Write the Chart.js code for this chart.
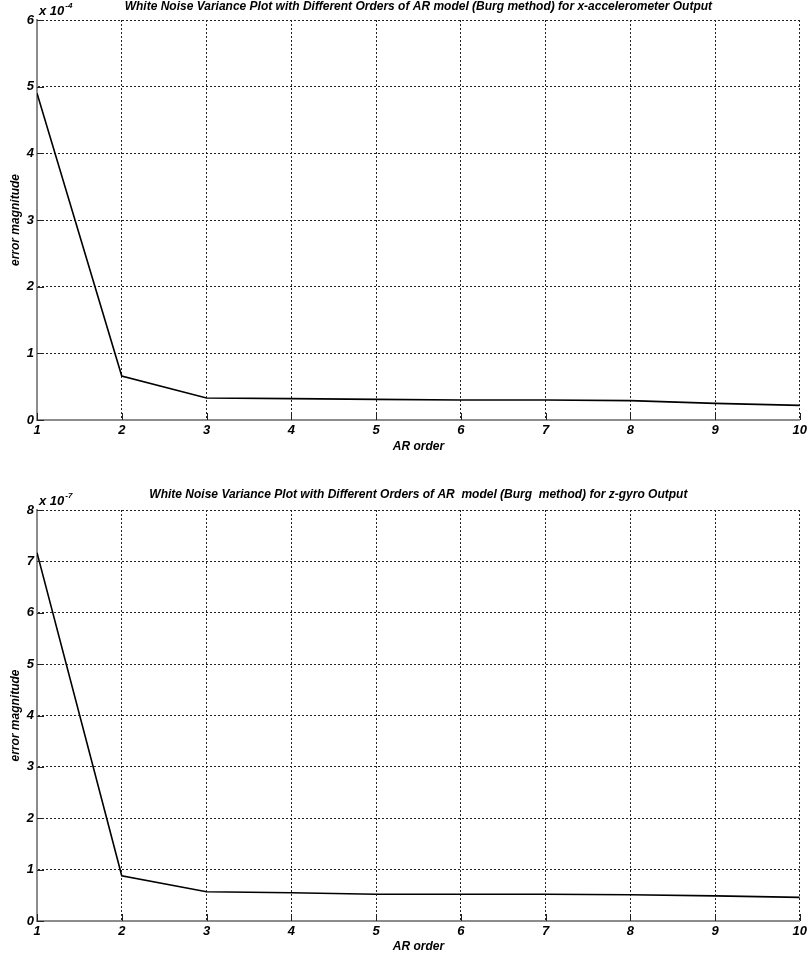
<!DOCTYPE html>
<html>
<head>
<meta charset="utf-8">
<script src="https://cdn.jsdelivr.net/npm/chart.js@4"></script>
<style>
  html, body { margin: 0; padding: 0; background: #fff; }
  .wrap { position: absolute; left: 0; width: 810px; }
</style>
</head>
<body>
<div class="wrap" style="top:0;height:470px"><canvas id="accel"></canvas></div>
<div class="wrap" style="top:470px;height:491px"><canvas id="gyro"></canvas></div>
<script>
// AR model orders (x axis)
const arOrders = [1, 2, 3, 4, 5, 6, 7, 8, 9, 10];

// white noise variance, x-accelerometer (x 10^-4)
const accelVariance = [4.9, 0.66, 0.33, 0.32, 0.31, 0.30, 0.30, 0.29, 0.25, 0.22];
const accelExponent = '-4';
const accelTitle = 'White Noise Variance Plot with Different Orders of AR model (Burg method) for x-accelerometer Output';

// white noise variance, z-gyro (x 10^-7)
const gyroVariance = [7.17, 0.88, 0.57, 0.55, 0.52, 0.52, 0.52, 0.51, 0.49, 0.46];
const gyroExponent = '-7';
const gyroTitle = 'White Noise Variance Plot with Different Orders of AR  model (Burg  method) for z-gyro Output';

const FONT = 'Liberation Sans, Arial, sans-serif';

// title + "x 10^n" label + inward tick marks, matlab style
const decorPlugin = {
    id: 'decor',
    afterDraw(chart, args, opts) {
        const ctx = chart.ctx;
        const area = chart.chartArea;
        const xs = chart.scales.x, ys = chart.scales.y;
        ctx.save();

        // inward ticks
        ctx.strokeStyle = '#222';
        ctx.lineWidth = 1;
        ctx.beginPath();
        xs.ticks.forEach(t => {
            const px = Math.round(xs.getPixelForValue(t.value)) + 0.5;
            ctx.moveTo(px, area.bottom);
            ctx.lineTo(px, area.bottom - 7);
        });
        ys.ticks.forEach(t => {
            const py = Math.round(ys.getPixelForValue(t.value)) + 0.5;
            ctx.moveTo(area.left, py);
            ctx.lineTo(area.left + 7, py);
        });
        ctx.stroke();

        // title
        ctx.fillStyle = '#000';
        ctx.font = 'italic bold 12px ' + FONT;
        ctx.textAlign = 'center';
        ctx.textBaseline = 'middle';
        ctx.fillText(opts.title, (area.left + area.right) / 2, opts.titleY);

        // exponent label
        ctx.textAlign = 'left';
        ctx.textBaseline = 'alphabetic';
        ctx.font = 'italic bold 13px ' + FONT;
        const base = 'x 10';
        const bx = area.left + 2;
        const by = area.top - 5;
        ctx.fillText(base, bx, by);
        const w = ctx.measureText(base).width;
        ctx.font = 'italic bold 8px ' + FONT;
        ctx.fillText(opts.exponent, bx + w + 1, by - 7);
        ctx.restore();
    }
};

function makeChart(id, values, yMax, cfg) {
    const ctx = document.getElementById(id).getContext('2d');
    return new Chart(ctx, {
        type: 'line',
        data: {
            labels: arOrders,
            datasets: [{
                data: arOrders.map((o, i) => ({x: o, y: values[i]})),
                borderColor: '#000',
                borderWidth: 1.6,
                pointRadius: 0,
                tension: 0,
                fill: false
            }]
        },
        plugins: [decorPlugin],
        options: {
            responsive: true,
            maintainAspectRatio: false,
            animation: false,
            events: [],
            layout: {
                padding: {top: cfg.padTop, right: 9, left: 0, bottom: 0}
            },
            plugins: {
                legend: {display: false},
                tooltip: {enabled: false},
                decor: {title: cfg.title, titleY: cfg.titleY, exponent: cfg.exponent}
            },
            scales: {
                x: {
                    type: 'linear',
                    min: 1,
                    max: 10,
                    afterFit: s => { s.height = cfg.xHeight; },
                    ticks: {
                        stepSize: 1,
                        padding: 3,
                        color: '#000',
                        font: {family: FONT, size: 13, weight: 'bold', style: 'italic'}
                    },
                    grid: {color: '#222', lineWidth: 1, drawTicks: false},
                    border: {color: '#8c8c8c', width: 2, dash: [2, 2]},
                    title: {
                        display: true,
                        text: 'AR order',
                        color: '#000',
                        padding: {top: 0, bottom: cfg.xTitlePad},
                        font: {family: FONT, size: 12, weight: 'bold', style: 'italic'}
                    }
                },
                y: {
                    min: 0,
                    max: yMax,
                    afterFit: s => { s.width = 37; },
                    ticks: {
                        stepSize: 1,
                        padding: 3,
                        color: '#000',
                        font: {family: FONT, size: 13, weight: 'bold', style: 'italic'}
                    },
                    grid: {color: '#222', lineWidth: 1, drawTicks: false},
                    border: {color: '#8c8c8c', width: 2, dash: [2, 2]},
                    title: {
                        display: true,
                        text: 'error magnitude',
                        color: '#000',
                        padding: {top: 8, bottom: 0},
                        font: {family: FONT, size: 12, weight: 'bold', style: 'italic'}
                    }
                }
            }
        }
    });
}

makeChart('accel', accelVariance, 6, {
    padTop: 20, xHeight: 50, xTitlePad: 16, titleY: 7,
    title: accelTitle, exponent: accelExponent
});
makeChart('gyro', gyroVariance, 8, {
    padTop: 40, xHeight: 40, xTitlePad: 7, titleY: 25,
    title: gyroTitle, exponent: gyroExponent
});
</script>
</body>
</html>
